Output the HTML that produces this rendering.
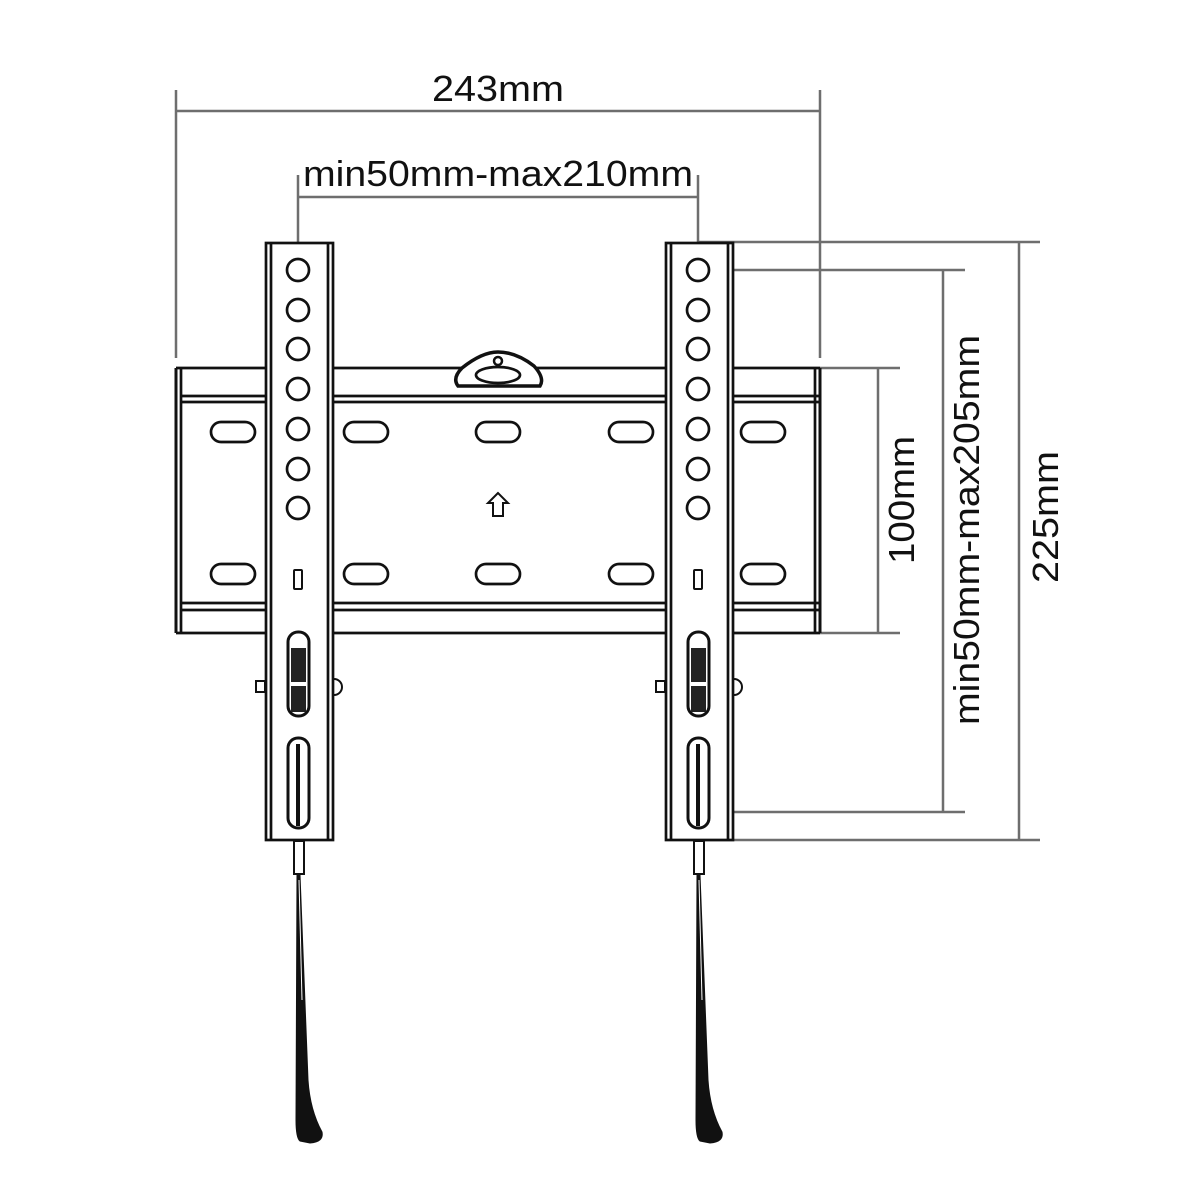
<!DOCTYPE html>
<html><head><meta charset="utf-8"><style>
html,body{margin:0;padding:0;background:#fff;}
svg{display:block;}
text{font-family:"Liberation Sans",sans-serif;fill:#111;}
</style></head><body>
<svg width="1200" height="1200" viewBox="0 0 1200 1200" xmlns="http://www.w3.org/2000/svg">
<rect width="1200" height="1200" fill="#fff"/>
<g stroke="#6e6e6e" stroke-width="2.5" fill="none">
  <line x1="176" y1="111" x2="820" y2="111"/>
  <line x1="176" y1="90" x2="176" y2="358"/>
  <line x1="820" y1="90" x2="820" y2="358"/>
  <line x1="298" y1="197" x2="698" y2="197"/>
  <line x1="298" y1="175" x2="298" y2="262"/>
  <line x1="698" y1="175" x2="698" y2="243"/>
  <line x1="698" y1="242" x2="1040" y2="242"/>
  <line x1="698" y1="840" x2="1040" y2="840"/>
  <line x1="1019" y1="242" x2="1019" y2="840"/>
  <line x1="698" y1="270" x2="965" y2="270"/>
  <line x1="698" y1="812" x2="965" y2="812"/>
  <line x1="943" y1="270" x2="943" y2="812"/>
  <line x1="820" y1="368" x2="900" y2="368"/>
  <line x1="820" y1="633" x2="900" y2="633"/>
  <line x1="878" y1="368" x2="878" y2="633"/>
</g>
<text x="498" y="101" font-size="36" text-anchor="middle" textLength="132" lengthAdjust="spacingAndGlyphs">243mm</text>
<text x="498" y="186" font-size="36" text-anchor="middle" textLength="390" lengthAdjust="spacingAndGlyphs">min50mm-max210mm</text>
<text transform="translate(914,500) rotate(-90)" font-size="36" text-anchor="middle" textLength="128" lengthAdjust="spacingAndGlyphs">100mm</text>
<text transform="translate(979,530) rotate(-90)" font-size="36" text-anchor="middle" textLength="390" lengthAdjust="spacingAndGlyphs">min50mm-max205mm</text>
<text transform="translate(1058,517) rotate(-90)" font-size="36" text-anchor="middle" textLength="132" lengthAdjust="spacingAndGlyphs">225mm</text>

<g stroke="#111" stroke-width="2.7" fill="none">
  <line x1="176" y1="368" x2="820" y2="368"/>
  <line x1="181" y1="396" x2="820" y2="396"/>
  <line x1="181" y1="402" x2="820" y2="402"/>
  <line x1="181" y1="603" x2="820" y2="603"/>
  <line x1="181" y1="610" x2="820" y2="610"/>
  <line x1="176" y1="633" x2="820" y2="633"/>
  <line x1="176" y1="368" x2="176" y2="633" stroke-width="3"/>
  <line x1="181" y1="368" x2="181" y2="633"/>
  <line x1="820" y1="368" x2="820" y2="633" stroke-width="3"/>
  <line x1="815" y1="368" x2="815" y2="633"/>
  <g>
    <rect x="211" y="422" width="44" height="20" rx="10"/>
    <rect x="344" y="422" width="44" height="20" rx="10"/>
    <rect x="476" y="422" width="44" height="20" rx="10"/>
    <rect x="609" y="422" width="44" height="20" rx="10"/>
    <rect x="741" y="422" width="44" height="20" rx="10"/>
    <rect x="211" y="564" width="44" height="20" rx="10"/>
    <rect x="344" y="564" width="44" height="20" rx="10"/>
    <rect x="476" y="564" width="44" height="20" rx="10"/>
    <rect x="609" y="564" width="44" height="20" rx="10"/>
    <rect x="741" y="564" width="44" height="20" rx="10"/>
  </g>
  <path d="M458 386 Q452 378 462 368 Q482 352 498 352 Q516 352 534 366 Q545 378 540 386 Z" fill="#fff" stroke-width="3.5"/>
  <ellipse cx="498" cy="375" rx="22" ry="8"/>
  <circle cx="498" cy="361" r="4" stroke-width="2.5"/>
  <path d="M498 493 L488 503 L493 503 L493 516 L503 516 L503 503 L508 503 Z" stroke-width="2"/>
</g>

<g id="arm" stroke="#111" stroke-width="2.7" fill="#fff">
  <rect x="266" y="243" width="67" height="597"/>
  <line x1="271" y1="243" x2="271" y2="840"/>
  <line x1="328" y1="243" x2="328" y2="840"/>
  <g fill="none">
    <circle cx="298" cy="270" r="11"/>
    <circle cx="298" cy="310" r="11"/>
    <circle cx="298" cy="349" r="11"/>
    <circle cx="298" cy="389" r="11"/>
    <circle cx="298" cy="429" r="11"/>
    <circle cx="298" cy="469" r="11"/>
    <circle cx="298" cy="508" r="11"/>
    <rect x="294" y="570" width="8" height="19" rx="1" stroke-width="2"/>
  </g>
  <rect x="256" y="681" width="9" height="11" fill="#fff" stroke-width="2"/>
  <path d="M334 679 A8 8 0 0 1 334 695" fill="none" stroke-width="2"/>
  <rect x="288" y="632" width="21" height="84" rx="10" fill="#fff" stroke-width="3"/>
  <rect x="291" y="648" width="15" height="34" fill="#222" stroke="none"/>
  <rect x="291" y="686" width="15" height="26" fill="#222" stroke="none"/>
  <rect x="288" y="738" width="21" height="90" rx="10" fill="#fff" stroke-width="3"/>
  <line x1="298" y1="744" x2="298" y2="826" stroke-width="4"/>
  <rect x="294" y="841" width="10" height="33" fill="#fff" stroke-width="2"/>
  <path d="M297 875 L300 875 L308 1080 Q310 1110 322 1132 Q324 1142 310 1143 L300 1141 Q296 1138 296 1120 Z" fill="#111" stroke-width="1"/>
  <path d="M299 880 L302 1000" stroke="#fff" stroke-width="1"/>
</g>
<use href="#arm" x="400"/>
</svg>
</body></html>
